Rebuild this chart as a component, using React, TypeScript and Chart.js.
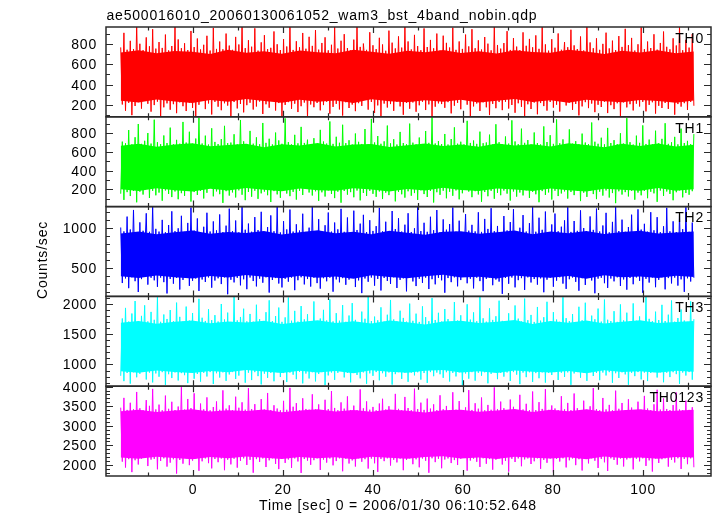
import { useEffect, useRef } from 'react';
import { Chart, registerables } from 'chart.js';

Chart.register(...registerables);

const TITLE = 'ae500016010_20060130061052_wam3_bst_4band_nobin.qdp';
const X_TITLE = 'Time [sec] 0 = 2006/01/30 06:10:52.648';
const Y_TITLE = 'Counts/sec';
const PANEL_NAMES = ['TH0', 'TH1', 'TH2', 'TH3', 'TH0123'];
const PANEL_COLORS = ['#ff0000', '#00ff00', '#0000ff', '#00ffff', '#ff00ff'];
const Y_MIN = [81, 16, 151, 640, 1718];
const Y_MAX = [970, 978, 1273, 2129, 4010];
const Y_MAJOR_STEP = [200, 200, 500, 500, 500];
const Y_MINOR_STEP = [100, 100, 100, 100, 100];
const X_MIN = -19.27;
const X_MAX = 115.18;
const X_MAJOR_STEP = 20;
const X_MINOR_STEP = 10;
const TIME_START = -16;
const BIN_WIDTH = 0.3548; // time bin of the rate samples
const CORE_BIN = 3.98; // time bin of the dense-band envelope samples

// Count-rate samples (counts/sec)
const TH0 = [
  768, 203, 912, 141, 745, 219, 833, 97, 752, 188, 990, 226, 804, 162, 741, 455, 867, 210, 779, 132,
  948, 197, 756, 231, 821, 84, 763, 175, 895, 214, 738, 151, 782, 206, 975, 117, 847, 224, 760, 186,
  809, 138, 742, 221, 931, 169, 771, 62, 856, 200, 748, 520, 794, 157, 883, 213, 737, 104, 961, 229,
  753, 181, 826, 146, 749, 215, 905, 192, 786, 73, 744, 227, 872, 164, 797, 208, 1004, 125, 761, 196,
  839, 220, 775, 153, 957, 183, 736, 232, 818, 109, 889, 205, 751, 171, 764, 390, 926, 143, 799, 217,
  742, 89, 851, 199, 777, 226, 988, 160, 743, 211, 829, 128, 769, 186, 911, 222, 755, 68, 873, 203,
  783, 176, 940, 218, 746, 145, 812, 197, 868, 230, 739, 112, 794, 179, 972, 209, 757, 154, 834, 93,
  899, 225, 762, 168, 738, 202, 845, 137, 981, 216, 773, 189, 806, 610, 744, 152, 918, 228, 789, 119,
  751, 194, 863, 78, 797, 212, 735, 173, 934, 207, 815, 140, 758, 229, 877, 184, 766, 101, 999, 218,
  827, 161, 748, 223, 892, 131, 781, 195, 740, 230, 956, 148, 772, 204, 842, 87, 759, 181, 905, 214,
  737, 207, 884, 170, 813, 226, 767, 115, 963, 191, 744, 219, 827, 156, 753, 340, 895, 201, 778, 66,
  948, 184, 760, 213, 838, 139, 747, 224, 871, 175, 805, 98, 739, 209, 985, 166, 792, 227, 756, 147,
  811, 230, 929, 163, 743, 198, 860, 121, 776, 215, 741, 180, 917, 79, 784, 205, 852, 158, 769, 222,
  887, 106, 754, 217, 973, 187, 798, 142, 736, 228, 849, 172, 765, 201, 906, 133, 745, 560, 821, 193,
  770, 221, 943, 150, 788, 208, 752, 95, 876, 184, 738, 226, 996, 167, 817, 212, 760, 127, 858, 200,
  744, 178, 803, 230, 914, 118, 758, 196, 835, 157, 741, 215, 880, 82, 773, 223, 952, 174, 790, 206,
  862, 144, 737, 211, 799, 183, 967, 229, 750, 135, 826, 199, 762, 225, 898, 113, 746, 190, 812, 168,
  925, 218, 774, 159, 749, 231, 858, 102, 787, 207, 979, 182, 740, 216, 843, 149, 766, 228, 901, 190,
];
const TH1 = [
  154, 712, 88, 694, 171, 836, 129, 683, 183, 759, 62, 901, 176, 688, 145, 721, 411, 804, 108, 691,
  185, 947, 137, 706, 166, 685, 79, 778, 189, 697, 152, 862, 118, 684, 178, 731, 95, 690, 160, 923,
  131, 702, 187, 818, 70, 689, 172, 745, 141, 967, 184, 692, 103, 776, 164, 681, 300, 855, 126, 709,
  179, 686, 149, 739, 56, 881, 181, 696, 134, 702, 168, 791, 114, 683, 190, 944, 143, 715, 85, 687,
  173, 827, 122, 690, 186, 758, 99, 684, 158, 912, 177, 699, 138, 743, 65, 682, 182, 809, 147, 725,
  110, 689, 188, 961, 156, 707, 128, 683, 174, 785, 91, 694, 186, 870, 140, 698, 520, 733, 167, 681,
  135, 749, 180, 685, 77, 838, 169, 713, 124, 691, 189, 928, 151, 688, 107, 764, 176, 700, 58, 893,
  183, 696, 144, 727, 171, 682, 116, 799, 188, 710, 83, 687, 162, 847, 130, 684, 185, 956, 153, 703,
  121, 772, 178, 689, 97, 715, 165, 884, 139, 693, 187, 738, 72, 681, 174, 816, 148, 697, 112, 684,
  180, 905, 133, 701, 161, 683, 88, 756, 190, 687, 150, 826, 119, 699, 183, 972, 60, 692, 170, 718,
  142, 686, 186, 794, 105, 681, 175, 740, 132, 865, 189, 690, 94, 711, 159, 683, 282, 935, 177, 698,
  117, 724, 181, 688, 146, 819, 68, 695, 172, 703, 127, 787, 185, 682, 100, 898, 163, 706, 138, 684,
  188, 767, 155, 691, 81, 940, 178, 714, 123, 685, 167, 851, 136, 699, 190, 729, 109, 683, 174, 810,
  148, 697, 63, 682, 182, 875, 141, 708, 168, 781, 92, 688, 186, 950, 129, 694, 157, 736, 179, 684,
  102, 843, 173, 690, 139, 717, 184, 685, 75, 798, 165, 702, 120, 686, 187, 917, 150, 711, 96, 689,
  176, 754, 134, 683, 189, 859, 113, 697, 161, 728, 53, 685, 180, 802, 145, 692, 171, 964, 125, 706,
  185, 681, 90, 776, 166, 699, 137, 886, 183, 687, 106, 734, 175, 684, 158, 829, 67, 695, 188, 742,
  130, 909, 178, 688, 152, 705, 84, 763, 170, 683, 190, 851, 115, 697, 162, 720, 143, 686, 181, 793,
];
const TH2 = [
  1012, 318, 963, 376, 1148, 254, 987, 389, 1231, 341, 955, 206, 1076, 367, 971, 660, 1189, 298, 958, 384,
  1281, 352, 995, 271, 961, 386, 1107, 329, 952, 188, 1043, 370, 1214, 310, 966, 381, 1002, 237, 1158, 357,
  957, 390, 1069, 283, 1260, 346, 974, 374, 1125, 219, 953, 362, 1021, 331, 1196, 388, 962, 260, 1088, 349,
  976, 377, 1175, 305, 954, 388, 1035, 178, 1247, 359, 968, 326, 1099, 383, 951, 289, 1279, 365, 984, 241,
  1061, 387, 959, 343, 1142, 276, 979, 373, 1208, 322, 956, 389, 1017, 199, 1163, 356, 965, 380, 1272, 312,
  950, 263, 1091, 371, 988, 335, 1236, 386, 961, 229, 1052, 353, 974, 390, 1184, 301, 957, 368, 1010, 274,
  1268, 384, 966, 317, 1116, 248, 953, 378, 1040, 340, 1199, 385, 960, 210, 1074, 363, 989, 327, 1245, 379,
  958, 296, 1137, 361, 951, 389, 1222, 268, 981, 351, 1060, 192, 1170, 375, 955, 334, 1103, 387, 969, 285,
  1029, 369, 1257, 225, 964, 382, 1084, 344, 952, 306, 1218, 389, 992, 256, 1128, 358, 961, 376, 1047, 214,
  1190, 388, 956, 338, 1002, 280, 1276, 372, 967, 320, 1071, 386, 958, 243, 1146, 366, 978, 302, 1230, 383,
  954, 352, 1113, 197, 985, 380, 1055, 329, 1262, 389, 960, 277, 1097, 355, 951, 600, 1179, 315, 972, 372,
  1045, 251, 963, 385, 1202, 342, 957, 217, 1119, 370, 994, 388, 1253, 291, 966, 361, 1031, 336, 955, 183,
  1155, 381, 975, 309, 1080, 387, 1241, 264, 952, 354, 1009, 379, 1167, 232, 961, 389, 1066, 325, 1274, 368,
  959, 298, 1134, 376, 983, 203, 1211, 360, 953, 385, 1050, 272, 1186, 348, 965, 390, 1022, 311, 1101, 245,
  1266, 366, 957, 387, 1093, 333, 970, 222, 1226, 378, 1005, 294, 956, 386, 1150, 350, 982, 190, 1248, 373,
  962, 384, 1037, 316, 1195, 257, 951, 374, 1082, 339, 1270, 389, 968, 281, 1110, 363, 959, 235, 1018, 382,
  1172, 303, 954, 388, 1239, 345, 986, 196, 1058, 371, 960, 324, 1203, 387, 977, 266, 1141, 358, 953, 389,
  1027, 239, 1258, 380, 964, 313, 1089, 386, 955, 286, 1182, 364, 991, 208, 1265, 377, 958, 337, 1073, 384,
];
const TH3 = [
  812, 1763, 724, 1938, 859, 1712, 683, 1845, 871, 2052, 788, 1720, 846, 1806, 1180, 1981, 751, 1714, 866, 1872,
  703, 1741, 852, 2117, 797, 1708, 873, 1829, 662, 1755, 839, 1903, 775, 1717, 868, 2026, 735, 1790, 857, 1711,
  823, 1960, 691, 1728, 870, 1854, 764, 1709, 843, 2089, 716, 1775, 862, 1722, 801, 1917, 874, 1736, 677, 1818,
  855, 1713, 784, 2003, 869, 1746, 729, 1860, 835, 1706, 874, 2131, 759, 1731, 816, 1788, 1320, 1925, 698, 1715,
  864, 1838, 742, 1710, 873, 1991, 807, 1752, 670, 1716, 848, 1867, 779, 2064, 861, 1720, 722, 1803, 872, 1944,
  792, 1707, 858, 1781, 709, 2110, 866, 1726, 831, 1889, 756, 1712, 875, 1969, 687, 1748, 850, 1833, 768, 1709,
  871, 2045, 720, 1719, 842, 1762, 873, 1906, 659, 1730, 819, 2080, 867, 1714, 745, 1851, 862, 1726, 1250, 1985,
  786, 1708, 860, 1812, 704, 2018, 872, 1740, 827, 1705, 770, 1877, 869, 1758, 681, 2125, 853, 1721, 812, 1794,
  874, 1733, 738, 1948, 856, 1711, 797, 1825, 868, 2070, 667, 1747, 840, 1716, 873, 1892, 761, 1772, 863, 1710,
  713, 2009, 865, 1724, 820, 1843, 871, 1706, 749, 1964, 858, 1785, 695, 1718, 874, 2101, 806, 1738, 866, 1857,
  838, 1712, 779, 1919, 872, 1753, 718, 1709, 861, 2036, 802, 1729, 869, 1816, 657, 1707, 851, 1998, 765, 1744,
  873, 1864, 732, 1717, 863, 2122, 815, 1766, 870, 1710, 688, 1931, 845, 1739, 873, 1800, 757, 2058, 859, 1723,
  799, 1708, 868, 1849, 727, 1715, 874, 1979, 832, 1760, 674, 1713, 866, 2092, 790, 1735, 871, 1822, 711, 1706,
  857, 1954, 772, 1727, 869, 1784, 700, 2040, 861, 1712, 826, 1868, 873, 1745, 743, 1709, 864, 2114, 794, 1768,
  870, 1719, 663, 1837, 852, 1705, 874, 1957, 781, 1733, 865, 2024, 728, 1716, 872, 1810, 809, 1750, 860, 1927,
  740, 1711, 867, 2077, 818, 1742, 873, 1720, 697, 1884, 855, 1707, 776, 1996, 870, 1731, 836, 1859, 665, 1714,
  862, 2013, 807, 1725, 874, 1797, 753, 1708, 866, 2130, 725, 1757, 859, 1718, 873, 1876, 784, 1737, 870, 1989,
  706, 1721, 864, 1826, 791, 2061, 872, 1710, 840, 1770, 680, 1912, 867, 1729, 817, 1706, 874, 2046, 748, 1751,
];
const TH0123 = [
  3462, 2085, 3712, 1934, 3405, 2148, 3587, 1817, 3421, 2120, 3863, 2012, 3448, 2163, 3398, 2760, 3655, 1972, 3509, 2137,
  3941, 2156, 3417, 1889, 3540, 2101, 3396, 2168, 3770, 1958, 3433, 2059, 3612, 2145, 3402, 1780, 3491, 2126, 3986, 2033,
  3413, 2170, 3684, 1995, 3451, 2111, 3829, 2160, 3400, 1852, 3567, 2093, 3419, 2167, 3725, 2046, 3394, 1913, 3478, 2152,
  3621, 2070, 3408, 2164, 3904, 1866, 3437, 2134, 3521, 2015, 3398, 2159, 3742, 1931, 3460, 2105, 3599, 2168, 3411, 2000,
  3959, 2131, 3426, 1802, 3552, 2149, 3399, 2078, 3681, 2166, 3414, 1947, 3837, 2118, 3403, 2169, 3523, 2026, 3440, 1894,
  3395, 2162, 3636, 2052, 3407, 2140, 3968, 1925, 3486, 2167, 3578, 2089, 3397, 1796, 3702, 2153, 3429, 2110, 3412, 2004,
  3803, 2122, 3418, 2168, 3545, 1873, 3401, 2136, 3663, 2060, 3424, 2165, 3887, 1990, 3455, 2099, 3396, 2169, 3597, 1839,
  3437, 2158, 3750, 2037, 3403, 2116, 3514, 1960, 3399, 2170, 3928, 2082, 3445, 2147, 3622, 1908, 3410, 2163, 3481, 2043,
  3394, 1824, 3568, 2154, 3689, 2097, 3416, 2169, 3499, 1985, 3402, 2133, 3814, 2065, 3431, 2161, 3395, 1866, 3736, 2128,
  3452, 2167, 3398, 2019, 3947, 2144, 3427, 1940, 3590, 2165, 3405, 2106, 3693, 1801, 3438, 2170, 3547, 2072, 3400, 2157,
  3778, 1916, 3421, 2139, 3506, 2166, 3397, 2048, 3855, 2124, 3412, 1998, 3630, 2160, 3399, 2750, 3470, 1855, 3911, 2113,
  3404, 2162, 3575, 2081, 3436, 1949, 3721, 2169, 3395, 2030, 3532, 2150, 3409, 1880, 3980, 2135, 3423, 2168, 3617, 2011,
  3447, 2103, 3396, 1829, 3669, 2158, 3484, 2075, 3403, 2167, 3790, 1967, 3415, 2142, 3561, 2167, 3398, 2024, 3874, 2094,
  3400, 2168, 3603, 1902, 3430, 2129, 3935, 2055, 3406, 2164, 3518, 1812, 3441, 2152, 3397, 2088, 3754, 2169, 3420, 1937,
  3583, 2119, 3399, 2166, 3824, 1995, 3448, 2147, 3401, 1859, 3640, 2161, 3411, 2040, 3497, 2170, 3962, 2108, 3425, 1923,
  3395, 2155, 3710, 2068, 3418, 1846, 3533, 2168, 3396, 2127, 3896, 2006, 3434, 2163, 3582, 1961, 3402, 2141, 3677, 2170,
  3464, 1888, 3397, 2159, 3615, 2092, 3409, 2169, 3762, 1975, 3439, 2117, 3398, 1832, 3548, 2165, 3919, 2050, 3413, 2146,
  3697, 2167, 3429, 1957, 3401, 2132, 3528, 2064, 3849, 2170, 3416, 1898, 3399, 2153, 3643, 2020, 3406, 2168, 3473, 1941,
];

// Upper / lower edge of the saturated (dense) part of each band
const TH0_CORE_HI = [718, 741, 709, 733, 724, 702, 746, 715, 729, 706, 738, 721, 711, 744, 726, 705, 735, 719, 742, 712, 731, 708, 739, 723, 714, 745, 727, 703, 736, 717, 740, 710, 728];
const TH0_CORE_LO = [241, 222, 252, 233, 218, 247, 229, 256, 238, 220, 249, 231, 243, 217, 254, 236, 225, 246, 230, 251, 223, 240, 257, 228, 244, 219, 250, 234, 226, 248, 237, 221, 242];
const TH1_CORE_HI = [668, 689, 657, 681, 694, 662, 677, 690, 653, 684, 671, 696, 659, 680, 687, 655, 673, 692, 664, 682, 658, 691, 670, 685, 661, 695, 676, 652, 688, 666, 693, 660, 679];
const TH1_CORE_LO = [201, 183, 212, 192, 177, 207, 188, 215, 196, 180, 210, 190, 185, 213, 198, 178, 205, 189, 217, 194, 182, 209, 199, 184, 211, 191, 179, 208, 197, 186, 214, 187, 203];
const TH2_CORE_HI = [938, 962, 927, 951, 973, 933, 956, 942, 968, 924, 953, 976, 939, 960, 929, 971, 946, 921, 958, 966, 935, 952, 975, 928, 963, 941, 969, 931, 955, 972, 937, 948, 961];
const TH2_CORE_LO = [402, 381, 413, 390, 374, 406, 387, 418, 396, 377, 409, 385, 400, 372, 415, 392, 379, 404, 420, 388, 398, 376, 411, 393, 383, 407, 373, 416, 389, 401, 380, 408, 394];
const TH3_CORE_HI = [1692, 1723, 1676, 1708, 1731, 1684, 1714, 1697, 1727, 1670, 1705, 1735, 1688, 1718, 1679, 1729, 1701, 1665, 1712, 1725, 1686, 1707, 1738, 1673, 1720, 1694, 1730, 1681, 1710, 1733, 1690, 1703, 1722];
const TH3_CORE_LO = [888, 864, 902, 876, 857, 893, 871, 907, 883, 860, 898, 869, 890, 853, 905, 879, 862, 895, 910, 867, 886, 858, 900, 881, 866, 892, 855, 906, 874, 889, 861, 897, 880];
const TH0123_CORE_HI = [3371, 3410, 3352, 3392, 3421, 3363, 3399, 3377, 3415, 3345, 3388, 3424, 3366, 3405, 3357, 3418, 3383, 3340, 3397, 3412, 3361, 3390, 3427, 3350, 3408, 3373, 3419, 3355, 3394, 3422, 3368, 3386, 3409];
const TH0123_CORE_LO = [2192, 2161, 2209, 2177, 2148, 2201, 2170, 2215, 2185, 2154, 2205, 2174, 2196, 2143, 2212, 2181, 2158, 2202, 2220, 2167, 2189, 2151, 2207, 2183, 2163, 2198, 2146, 2213, 2176, 2193, 2156, 2204, 2187];

const SERIES = [TH0, TH1, TH2, TH3, TH0123];
const CORE_HI = [TH0_CORE_HI, TH1_CORE_HI, TH2_CORE_HI, TH3_CORE_HI, TH0123_CORE_HI];
const CORE_LO = [TH0_CORE_LO, TH1_CORE_LO, TH2_CORE_LO, TH3_CORE_LO, TH0123_CORE_LO];

const FONT = '14px "Liberation Sans", Arial, Helvetica, sans-serif';
const FRAME_COLOR = '#2b2b2b';

const framePlugin = {
  id: 'qdpFrame',
  afterDatasetsDraw(chart: any) {
    const ctx: CanvasRenderingContext2D = chart.ctx;
    const xs = chart.scales.x;
    const left = chart.chartArea.left;
    const right = chart.chartArea.right;
    ctx.save();
    ctx.strokeStyle = FRAME_COLOR;
    ctx.fillStyle = '#000';
    ctx.font = FONT;
    (ctx as any).letterSpacing = '0.8px';

    const xk0 = Math.ceil(X_MIN / X_MINOR_STEP);
    const xk1 = Math.floor(X_MAX / X_MINOR_STEP);

    SERIES.forEach((_, i) => {
      const ys = chart.scales['y' + i];
      const top = ys.top;
      const bottom = ys.bottom;
      ctx.lineWidth = 1.2;
      ctx.beginPath();
      const k0 = Math.ceil(Y_MIN[i] / Y_MINOR_STEP[i]);
      const k1 = Math.floor(Y_MAX[i] / Y_MINOR_STEP[i]);
      for (let k = k0; k <= k1; k++) {
        const v = k * Y_MINOR_STEP[i];
        const y = Math.round(ys.getPixelForValue(v)) + 0.5;
        const len = v % Y_MAJOR_STEP[i] === 0 ? 7 : 4;
        ctx.moveTo(left, y);
        ctx.lineTo(left + len, y);
        ctx.moveTo(right, y);
        ctx.lineTo(right - len, y);
      }
      for (let k = xk0; k <= xk1; k++) {
        const t = k * X_MINOR_STEP;
        const x = Math.round(xs.getPixelForValue(t)) + 0.5;
        const len = t % X_MAJOR_STEP === 0 ? 6 : 3.5;
        ctx.moveTo(x, top);
        ctx.lineTo(x, top + len);
        ctx.moveTo(x, bottom);
        ctx.lineTo(x, bottom - len);
      }
      ctx.stroke();
      ctx.lineWidth = 1.5;
      ctx.strokeRect(left, top, right - left, bottom - top);
      ctx.textAlign = 'right';
      ctx.textBaseline = 'alphabetic';
      const m0 = Math.ceil(Y_MIN[i] / Y_MAJOR_STEP[i]);
      const m1 = Math.floor(Y_MAX[i] / Y_MAJOR_STEP[i]);
      for (let m = m0; m <= m1; m++) {
        const v = m * Y_MAJOR_STEP[i];
        const y = ys.getPixelForValue(v);
        ctx.fillText(String(v), left - 9, y + 5);
      }
      ctx.textAlign = 'right';
      ctx.fillText(PANEL_NAMES[i], right - 7, top + 15.7);
    });

    const last = chart.scales['y' + (SERIES.length - 1)];
    ctx.textAlign = 'center';
    ctx.textBaseline = 'alphabetic';
    const mx0 = Math.ceil(X_MIN / X_MAJOR_STEP);
    const mx1 = Math.floor(X_MAX / X_MAJOR_STEP);
    for (let m = mx0; m <= mx1; m++) {
      const t = m * X_MAJOR_STEP;
      ctx.fillText(String(t), xs.getPixelForValue(t) + 0.4, last.bottom + 17.5);
    }
    ctx.fillText(X_TITLE, 398, last.bottom + 34.3);

    ctx.textAlign = 'left';
    ctx.fillText(TITLE, left + 0.5, 20);

    ctx.save();
    ctx.translate(46.5, 260);
    ctx.rotate(-Math.PI / 2);
    ctx.textAlign = 'center';
    ctx.fillText(Y_TITLE, 0, 0);
    ctx.restore();

    ctx.restore();
  },
};

export default function App() {
  const canvasRef = useRef<HTMLCanvasElement | null>(null);

  useEffect(() => {
    const canvas = canvasRef.current;
    if (!canvas) return;
    const scales: any = {
      x: { type: 'linear', min: X_MIN, max: X_MAX, display: false },
    };
    SERIES.forEach((_, i) => {
      scales['y' + i] = {
        type: 'linear',
        position: 'left',
        min: Y_MIN[i],
        max: Y_MAX[i],
        display: false,
        stack: 'panels',
        stackWeight: 1,
        weight: SERIES.length - i,
      };
    });
    const datasets: any[] = [];
    SERIES.forEach((series, i) => {
      datasets.push({
        label: PANEL_NAMES[i],
        data: series.map((v, j) => ({ x: TIME_START + j * BIN_WIDTH, y: v })),
        yAxisID: 'y' + i,
        xAxisID: 'x',
        borderColor: PANEL_COLORS[i],
        borderWidth: 1,
        pointRadius: 0,
        fill: false,
        tension: 0,
      });
      datasets.push({
        label: PANEL_NAMES[i] + ' dense upper',
        data: CORE_HI[i].map((v, j) => ({ x: TIME_START + j * CORE_BIN, y: v })),
        yAxisID: 'y' + i,
        xAxisID: 'x',
        borderColor: PANEL_COLORS[i],
        backgroundColor: PANEL_COLORS[i],
        borderWidth: 0,
        pointRadius: 0,
        fill: '+1',
        tension: 0,
      });
      datasets.push({
        label: PANEL_NAMES[i] + ' dense lower',
        data: CORE_LO[i].map((v, j) => ({ x: TIME_START + j * CORE_BIN, y: v })),
        yAxisID: 'y' + i,
        xAxisID: 'x',
        borderColor: PANEL_COLORS[i],
        borderWidth: 0,
        pointRadius: 0,
        fill: false,
        tension: 0,
      });
    });
    const chart = new Chart(canvas, {
      type: 'line',
      data: { datasets },
      options: {
        animation: false,
        responsive: false,
        devicePixelRatio: 1,
        layout: { padding: { left: 106, right: 6, top: 27, bottom: 40 } },
        scales,
        plugins: {
          legend: { display: false },
          tooltip: { enabled: false },
          title: { display: false },
        },
        events: [],
      } as any,
      plugins: [framePlugin],
    });
    return () => chart.destroy();
  }, []);

  return (
    <div style={{ position: 'absolute', left: 0, top: 0, width: 717, height: 516, background: '#fff' }}>
      <canvas ref={canvasRef} width={717} height={516} style={{ display: 'block' }} />
    </div>
  );
}
